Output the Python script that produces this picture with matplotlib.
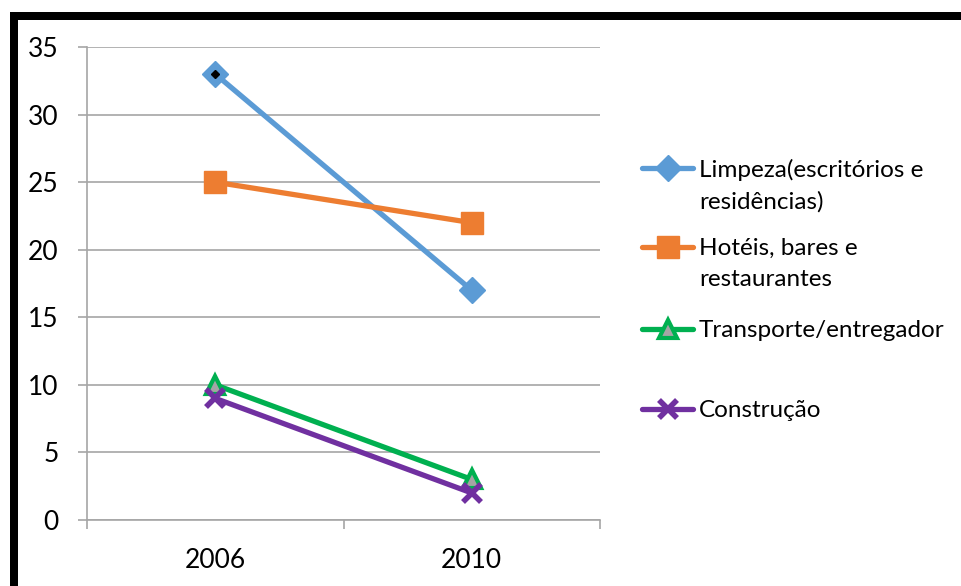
import matplotlib
matplotlib.use("Agg")
import matplotlib.pyplot as plt
from matplotlib.lines import Line2D
from matplotlib.patches import Rectangle

plt.rcParams['font.family'] = ['Lato', 'DejaVu Sans']

years = ["2006", "2010"]
series_names = [
    "Limpeza(escritórios e\nresidências)",
    "Hotéis, bares e\nrestaurantes",
    "Transporte/entregador",
    "Construção",
]
limpeza = [33, 17]
hoteis = [25, 22]
transporte = [10, 3]
construcao = [9, 2]
y_ticks = [0, 5, 10, 15, 20, 25, 30, 35]

W, H = 961, 586
fig = plt.figure(figsize=(W / 100, H / 100), dpi=100)
fig.patch.set_facecolor("white")


def fx(px):
    return px / W


def fy(py):
    return 1 - py / H


ax = fig.add_axes([fx(87), fy(520), fx(600) - fx(87), fy(47) - fy(520)])

styles = [
    dict(color="#5B9BD5", marker="D", ms=13, mfc="#5B9BD5", mec="#5B9BD5"),
    dict(color="#ED7D31", marker="s", ms=16, mfc="#ED7D31", mec="#ED7D31"),
    dict(color="#00B050", marker="^", ms=13, mfc="#A5A5A5", mec="#00B050", mew=3),
    dict(color="#7030A0", marker="x", ms=13, mew=4),
]
values = [limpeza, hoteis, transporte, construcao]
xs = list(range(len(years)))

for vals, st in zip(values, styles):
    ax.plot(xs, vals, lw=3.8, solid_capstyle="round", zorder=3, **st)

# small dark centre on the first cleaning point
ax.plot(xs[:1], limpeza[:1], marker="D", ms=4, color="black", ls="none", zorder=4)

ax.set_xlim(-0.5, len(years) - 0.5)
ax.set_ylim(0, 35)
ax.set_yticks(y_ticks)
ax.set_yticklabels([str(t) for t in y_ticks])
ax.set_xticks(xs)
ax.set_xticklabels(years)
ax.set_xticks([x - 0.5 for x in range(len(years) + 1)], minor=True)

grid_c = "#A6A6A6"
ax.yaxis.grid(True, color=grid_c, lw=1.2)
ax.set_axisbelow(True)
for s in ["top", "right"]:
    ax.spines[s].set_visible(False)
for s in ["left", "bottom"]:
    ax.spines[s].set_color(grid_c)
    ax.spines[s].set_linewidth(1.2)

ax.tick_params(axis="y", length=6.5, width=1.2, color=grid_c, pad=14,
               labelsize=19, labelcolor="black")
ax.tick_params(axis="x", which="major", length=0, pad=20, labelsize=19,
               labelcolor="black")
ax.tick_params(axis="x", which="minor", length=6.5, width=1.2, color=grid_c)

# legend drawn at the right of the plot area
leg_y = [168, 247, 329, 409]
for name, st, ypx in zip(series_names, styles, leg_y):
    ln = Line2D([fx(642), fx(693)], [fy(ypx), fy(ypx)], transform=fig.transFigure,
                lw=3.8, solid_capstyle="round", color=st["color"])
    fig.add_artist(ln)
    mk = Line2D([fx(667.5)], [fy(ypx)], transform=fig.transFigure, ls="none",
                **{k: v for k, v in st.items() if k != "color"},
                color=st["color"])
    fig.add_artist(mk)
    fig.text(fx(699), fy(ypx - 9), name, fontsize=17.5, va="top", ha="left",
             linespacing=1.58, transform=fig.transFigure)

# heavy frame along the top and left
fig.add_artist(Rectangle((fx(10), fy(20)), 1 - fx(10), fy(12) - fy(20),
                         transform=fig.transFigure, color="black", lw=0))
fig.add_artist(Rectangle((fx(10), 0), fx(18) - fx(10), fy(12),
                         transform=fig.transFigure, color="black", lw=0))

fig.savefig("out.png", dpi=100)
